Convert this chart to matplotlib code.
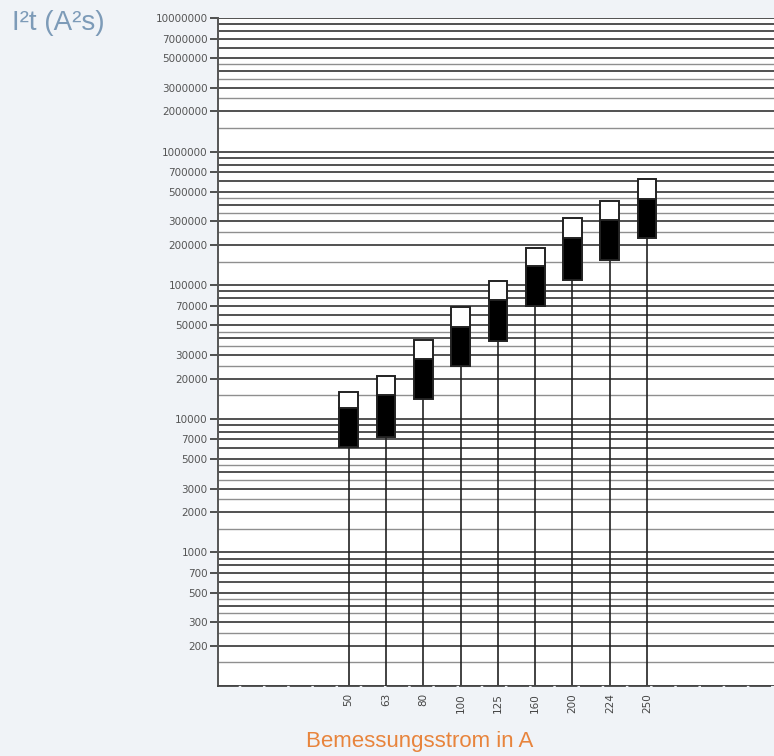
"""I2t let-through energy per rated current, log chart."""

import matplotlib.pyplot as plt
import numpy as np

# rated currents (A) and I2t values (A^2 s)
currents = ["50", "63", "80", "100", "125", "160", "200", "224", "250"]
i2t_low = [6200, 7300, 14000, 25000, 38000, 70000, 110000, 155000, 225000]
i2t_mid = [12000, 15000, 28000, 49000, 78000, 140000, 225000, 310000, 445000]
i2t_high = [16000, 21000, 39000, 69000, 108000, 190000, 320000, 430000, 620000]

y_labels = [200, 300, 500, 700, 1000, 2000, 3000, 5000, 7000,
            10000, 20000, 30000, 50000, 70000, 100000, 200000, 300000,
            500000, 700000, 1000000, 2000000, 3000000, 5000000, 7000000, 10000000]

# log paper rulings inside each decade
strong_marks = [1, 2, 3, 4, 5, 6, 7, 8, 9]
light_marks = [1.5, 2.5, 3.5, 4.5]

BG = "#f0f3f7"


def main() -> None:
    fig = plt.figure(figsize=(7.74, 7.56), dpi=100, facecolor=BG)
    ax = fig.add_axes([218 / 774, 1 - 686 / 756, 556 / 774, 668 / 756])
    ax.set_facecolor("white")
    ax.set_yscale("log")
    ax.set_ylim(100, 1e7)
    ax.set_xlim(-0.5, 14.4)

    for decade in [100, 1000, 10000, 100000, 1000000]:
        for m in strong_marks:
            ax.axhline(m * decade, color="#222222", lw=1.1, zorder=1)
        for m in light_marks:
            ax.axhline(m * decade, color="#8f8f8f", lw=1.0, zorder=1)
    ax.axhline(1e7, color="#222222", lw=1.1, zorder=1)

    x = np.arange(len(currents)) + 3
    low = np.array(i2t_low)
    mid = np.array(i2t_mid)
    high = np.array(i2t_high)

    ax.vlines(x, 100, low, color="#222222", lw=1.2, zorder=2)
    ax.bar(x, mid - low, bottom=low, width=0.5, color="black",
           edgecolor="#222222", linewidth=1.4, zorder=3)
    ax.bar(x, high - mid, bottom=mid, width=0.5, color="white",
           edgecolor="#222222", linewidth=1.4, zorder=3)

    ax.set_xticks(x)
    ax.set_xticklabels(currents, rotation=90, fontsize=7.5, color="#444444")
    ax.tick_params(axis="x", length=0, pad=5)

    ax.set_yticks(y_labels)
    ax.set_yticks([], minor=True)
    ax.set_yticklabels([str(v) for v in y_labels], fontsize=7.5, color="#555555")
    ax.tick_params(axis="y", length=6, width=1.2, color="#333333", pad=1.5)

    for side in ["top", "right"]:
        ax.spines[side].set_visible(False)
    ax.spines["left"].set_color("#555555")
    ax.spines["left"].set_linewidth(1.4)
    ax.spines["bottom"].set_color("#444444")
    ax.spines["bottom"].set_linewidth(1.3)
    ax.spines["bottom"].set_linestyle((0, (11, 2.4)))

    fig.text(12 / 774, 1 - 10 / 756, "I²t (A²s)", fontsize=20,
             family="Liberation Sans", color="#7d9bb8", ha="left", va="top")
    fig.text(420 / 774, 1 - 741 / 756, "Bemessungsstrom in A", fontsize=16,
             family="Liberation Sans", color="#e8843c", ha="center", va="center")

    fig.savefig("out.png", dpi=100, facecolor=BG)
    plt.close(fig)


if __name__ == "__main__":
    main()
